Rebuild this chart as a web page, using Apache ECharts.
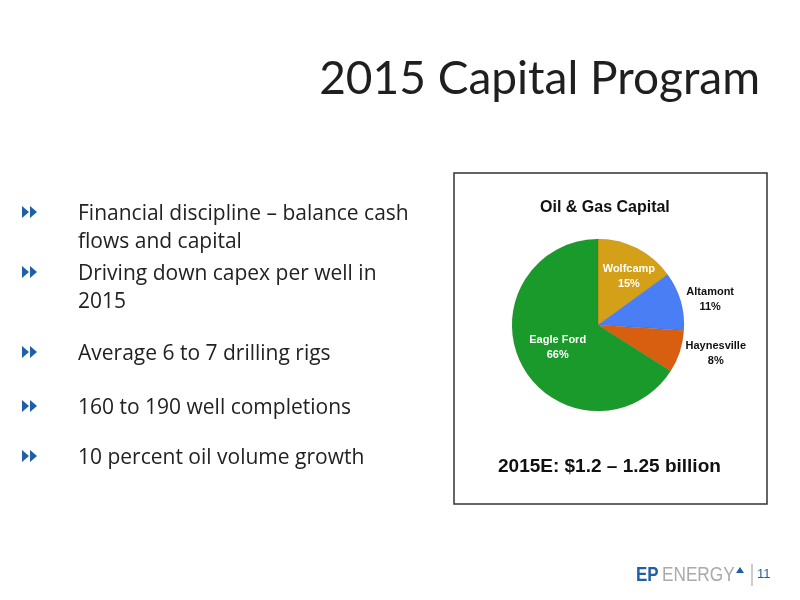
<!doctype html>
<html>
<head>
<meta charset="UTF-8">
<script src="https://cdn.jsdelivr.net/npm/echarts@6/dist/echarts.min.js"></script>
<style>body{margin:0}</style>
</head>
<body>
<div id="main" style="width:800px;height:600px;"></div>
<script>
var regions = ['Wolfcamp', 'Altamont', 'Haynesville', 'Eagle Ford'];
var shares = [15, 11, 8, 66];
var colors = ['#d4a017', '#4a7ef5', '#d85e10', '#1a9a2a'];
var bullets = [
    ['Financial discipline \u2013 balance cash', 'flows and capital'],
    ['Driving down capex per well in', '2015'],
    ['Average 6 to 7 drilling rigs'],
    ['160 to 190 well completions'],
    ['10 percent oil volume growth']
];
var bulletY = [212, 272, 352, 406, 456];

var graphics = [
    {type: 'text', right: 40, top: 56, style: {text: '2015 Capital Program', font: '46px Lato, sans-serif', fill: '#1f1f1f'}},
    {type: 'rect', shape: {x: 454, y: 173, width: 313, height: 331}, style: {fill: 'none', stroke: '#333', lineWidth: 1.5}},
    {type: 'text', left: 540, top: 200, style: {text: 'Oil & Gas Capital', font: 'bold 16px "Liberation Sans", sans-serif', fill: '#111'}},
    {type: 'text', left: 498, top: 457, style: {text: '2015E: $1.2 \u2013 1.25 billion', font: 'bold 19px "Liberation Sans", sans-serif', fill: '#111'}},
    {type: 'text', x: 636, y: 565, scaleX: 0.85, style: {text: 'EP', font: 'bold 20px "Liberation Sans", sans-serif', fill: '#1f5fa8'}},
    {type: 'text', x: 662, y: 565, scaleX: 0.86, style: {text: 'ENERGY', font: '20px "Liberation Sans", sans-serif', fill: '#aaa'}},
    {type: 'polygon', shape: {points: [[736, 573], [740, 567], [744, 573]]}, style: {fill: '#1f5fa8'}},
    {type: 'line', shape: {x1: 752, y1: 564, x2: 752, y2: 586}, style: {stroke: '#999', lineWidth: 1}},
    {type: 'text', left: 757, top: 568, style: {text: '11', font: '13px "Liberation Sans", sans-serif', fill: '#1f5fa8'}}
];
bullets.forEach(function (b, i) {
    var y = bulletY[i];
    graphics.push({type: 'polygon', shape: {points: [[22, y - 6], [29, y], [22, y + 6]]}, style: {fill: '#1f5fa8'}});
    graphics.push({type: 'polygon', shape: {points: [[30, y - 6], [37, y], [30, y + 6]]}, style: {fill: '#1f5fa8'}});
    graphics.push({type: 'text', left: 78, top: y - 12, style: {text: b.join('\n'), font: '21px "Open Sans", sans-serif', fill: '#222', lineHeight: 28}});
});

var chart = echarts.init(document.getElementById('main'));
chart.setOption({
    animation: false,
    graphic: graphics,
    series: [{
        type: 'pie',
        center: [598, 325],
        radius: 86,
        startAngle: 90,
        clockwise: true,
        label: {
            position: 'inside',
            formatter: function (p) { return p.name + '\n' + p.value + '%'; },
            fontWeight: 'bold', fontSize: 11, lineHeight: 15
        },
        itemStyle: {borderColor: 'rgba(0,0,0,0.15)', borderWidth: 0.5},
        data: regions.map(function (r, i) {
            var d = {name: r, value: shares[i], itemStyle: {color: colors[i]}};
            if (r === 'Altamont' || r === 'Haynesville') {
                d.label = {position: 'outside', color: '#111', distanceToLabelLine: 0,
                    formatter: function (p) { return '{c|' + p.name + '}\n{c|' + p.value + '%}'; },
                    rich: {c: {align: 'center', fontWeight: 'bold', fontSize: 11, lineHeight: 15, color: '#111'}}};
                d.labelLine = {show: false, length: 6, length2: 0};
            } else if (r === 'Wolfcamp') {
                d.label = {color: '#fff', offset: [10, -8]};
            } else {
                d.label = {color: '#fff'};
            }
            return d;
        })
    }]
});
</script>
</body>
</html>
